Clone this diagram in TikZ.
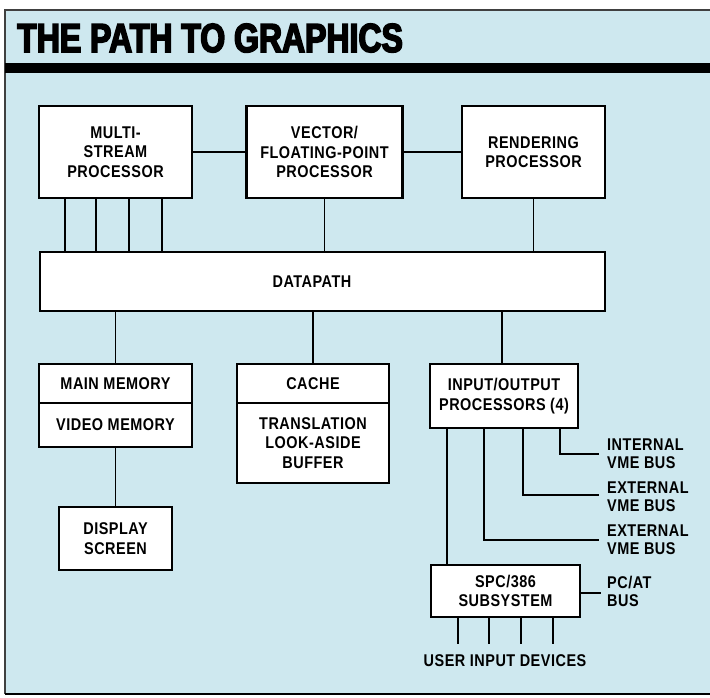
\documentclass[tikz,border=0pt]{standalone}
\usepackage{graphicx}
\usepackage{fontspec}
\newfontfamily\lab{Liberation Sans Bold}[FakeStretch=0.85,LetterSpace=3]
\newfontfamily\ttl{Liberation Sans Bold}[FakeStretch=0.79,FakeBold=4]
\definecolor{bgblue}{RGB}{206,232,239}
\tikzset{
  box/.style={draw, line width=2.4pt, fill=white, align=center, inner sep=0pt,
    font=\lab\fontsize{17}{19.5}\selectfont},
  conn/.style={line width=1.8pt, line cap=rect},
  lbl/.style={align=left, inner sep=0pt, font=\lab\fontsize{17}{18}\selectfont},
}
\begin{document}
\begin{tikzpicture}[x=1pt,y=-1pt]
\useasboundingbox (0,0) rectangle (710,697);
% background and frame
\fill[white] (0,0) rectangle (710,697);
\fill[bgblue] (5,10) rectangle (710,694);
\draw[line width=1.2pt, black!75] (710,10) -- (5,10) -- (5,694);
\draw[line width=2.5pt] (5,694) -- (710,694);
\fill[black] (5,63) rectangle (710,73);
% title
\node[anchor=base west, inner sep=0pt] (title) at (17,52)
  {\ttl\fontsize{40.5}{44}\selectfont THE PATH TO GRAPHICS};
% top row
\node[box, minimum width=153pt, minimum height=92pt] (multi) at (115.5,152) {MULTI-\\STREAM\\PROCESSOR};
\node[box, minimum width=156pt, minimum height=92pt] (vector) at (324.5,152) {VECTOR/\\FLOATING-POINT\\PROCESSOR};
\node[box, minimum width=143.5pt, minimum height=92pt] (render) at (533.5,152) {RENDERING\\PROCESSOR};
% datapath
\node[box, minimum width=565pt, minimum height=59pt] (dp) at (322.5,281.5) {};
\node[inner sep=0pt, font=\lab\fontsize{17}{19.5}\selectfont] (dptext) at (312,281.5) {DATAPATH};
% memory column
\node[box, minimum width=153pt, minimum height=39pt] (mainmem) at (115.5,383.5) {MAIN MEMORY};
\node[box, minimum width=153pt, minimum height=44pt] (videomem) at (115.5,425) {VIDEO MEMORY};
\node[box, minimum width=113pt, minimum height=63pt] (display) at (115.5,538.5) {DISPLAY\\SCREEN};
% cache column
\node[box, minimum width=152pt, minimum height=39pt] (cache) at (313,383.5) {CACHE};
\node[box, minimum width=152pt, minimum height=80pt] (tlb) at (313,443) {TRANSLATION\\LOOK-ASIDE\\BUFFER};
% io column
\node[box, minimum width=148pt, minimum height=64pt] (io) at (504,396) {INPUT/OUTPUT\\PROCESSORS (4)};
\node[box, minimum width=149pt, minimum height=52pt] (spc) at (505.5,591) {SPC/386\\SUBSYSTEM};
% coordinates for free ends
\coordinate (b1) at (598,454);
\coordinate (b2) at (598,495);
\coordinate (b3) at (598,540);
\coordinate (b4) at (600,593);
\coordinate (u1) at (458,643);
\coordinate (u2) at (489,643);
\coordinate (u3) at (521,643);
\coordinate (u4) at (553,643);
% labels
\node[lbl, anchor=west] (l1) at ([xshift=9pt]b1) {INTERNAL\\VME BUS};
\node[lbl, anchor=west] (l2) at ([xshift=9pt,yshift=-2pt]b2) {EXTERNAL\\VME BUS};
\node[lbl, anchor=west] (l3) at ([xshift=9pt]b3) {EXTERNAL\\VME BUS};
\node[lbl, anchor=west] (l4) at ([xshift=7pt,yshift=2pt]b4) {PC/AT\\BUS};
\node[inner sep=0pt, font=\lab\fontsize{17}{19.5}\selectfont] (uid) at (505,661) {USER INPUT DEVICES};
% connectors
\begin{scope}[conn]
\draw (multi.east) -- (vector.west);
\draw (vector.east) -- (render.west);
\foreach \x in {65,96,129,162} \draw (multi.south -| \x,0) -- (dp.north -| \x,0);
\draw (vector.south) -- (vector.south |- dp.north);
\draw (render.south) -- (render.south |- dp.north);
\draw (dp.south -| mainmem.north) -- (mainmem.north);
\draw (dp.south -| cache.north) -- (cache.north);
\draw (dp.south -| 502,0) -- (io.north -| 502,0);
\draw (videomem.south) -- (display.north);
\draw (io.south -| 447,0) -- (spc.north -| 447,0);
\draw (io.south -| 484,0) |- (b3);
\draw (io.south -| 523,0) |- (b2);
\draw (io.south -| 560,0) |- (b1);
\draw (spc.east |- b4) -- (b4);
\foreach \u in {u1,u2,u3,u4} \draw (spc.south -| \u) -- (\u);
\end{scope}
\end{tikzpicture}
\end{document}
